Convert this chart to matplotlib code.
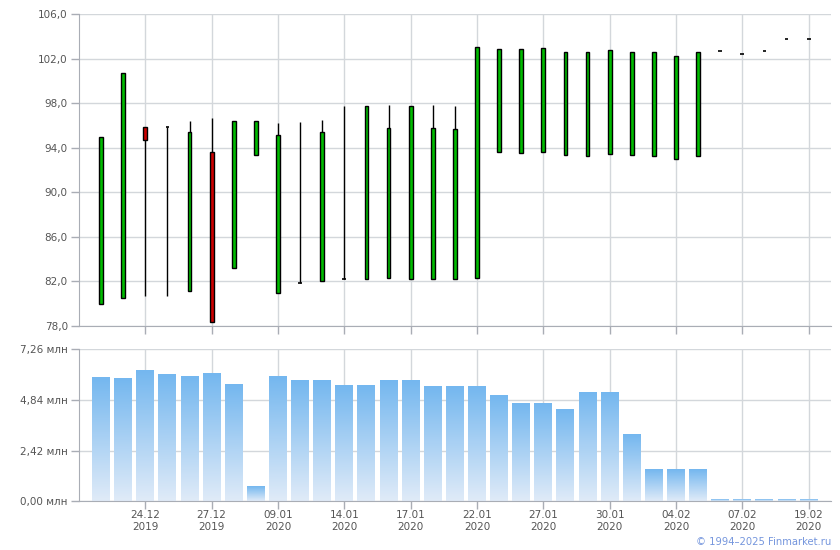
import numpy as np
import matplotlib
matplotlib.use("Agg")
import matplotlib.pyplot as plt
from matplotlib.colors import LinearSegmentedColormap

# --- data ---
opens = [80.0, 80.5, 95.9, 95.85, 81.1, 93.6, 83.2, 93.35, 80.95, 81.85, 82.0,
         82.2, 82.2, 82.3, 82.2, 82.2, 82.2, 82.3, 93.6, 93.5, 93.6, 93.35,
         93.25, 93.45, 93.35, 93.25, 93.0, 93.25, 102.7, 102.4, 102.7, 103.75, 103.75]
highs = [95.0, 100.7, 95.9, 95.85, 96.4, 96.65, 96.4, 96.4, 96.2, 96.3, 96.5,
         97.75, 97.75, 97.85, 97.75, 97.85, 97.75, 103.05, 102.85, 102.85, 102.95, 102.6,
         102.6, 102.75, 102.6, 102.6, 102.25, 102.6, 102.7, 102.4, 102.7, 103.75, 103.75]
lows = [80.0, 80.5, 80.65, 80.65, 81.1, 78.35, 83.2, 93.35, 80.95, 81.85, 82.0,
        82.2, 82.2, 82.3, 82.2, 82.2, 82.2, 82.3, 93.6, 93.5, 93.6, 93.35,
        93.25, 93.45, 93.35, 93.25, 93.0, 93.25, 102.7, 102.4, 102.7, 103.75, 103.75]
closes = [95.0, 100.7, 94.75, 95.85, 95.4, 78.35, 96.4, 96.4, 95.2, 81.85, 95.4,
          82.2, 97.75, 95.75, 97.75, 95.75, 95.7, 103.05, 102.85, 102.85, 102.95, 102.6,
          102.6, 102.75, 102.6, 102.6, 102.25, 102.6, 102.7, 102.4, 102.7, 103.75, 103.75]
volumes = [5.89, 5.84, 6.22, 6.03, 5.94, 6.08, 5.55, 0.68, 5.94, 5.74, 5.74,
           5.51, 5.51, 5.74, 5.74, 5.46, 5.46, 5.46, 5.03, 4.65, 4.65, 4.36,
           5.17, 5.17, 3.17, 1.50, 1.50, 1.50, 0.05, 0.05, 0.05, 0.05, 0.05]
tick_idx = [2, 5, 8, 11, 14, 17, 20, 23, 26, 29, 32]
tick_labels = ["24.12\n2019", "27.12\n2019", "09.01\n2020", "14.01\n2020", "17.01\n2020",
               "22.01\n2020", "27.01\n2020", "30.01\n2020", "04.02\n2020", "07.02\n2020",
               "19.02\n2020"]
price_ticks = [78, 82, 86, 90, 94, 98, 102, 106]
vol_ticks = [0.0, 2.42, 4.84, 7.26]

GRID = "#d3d7db"
SPINE = "#a9adb5"
TXT = "#555555"

plt.rcParams['font.family'] = ['DejaVu Sans']
plt.rcParams['font.size'] = 7.5

fig = plt.figure(figsize=(8.4, 5.5), dpi=100)
ax = fig.add_axes([0.094, 0.4073, 0.895, 0.5667])
axv = fig.add_axes([0.094, 0.0885, 0.895, 0.2764])

x = np.arange(len(opens))


def style(a):
    a.set_xlim(-1, len(opens))
    for s in ["top", "right"]:
        a.spines[s].set_visible(False)
    for s in ["left", "bottom"]:
        a.spines[s].set_color(SPINE)
    a.grid(True, color=GRID, linewidth=1)
    a.set_axisbelow(True)
    a.tick_params(color=SPINE, length=6, width=1, labelcolor=TXT, pad=2)
    a.set_xticks(tick_idx)


style(ax)
style(axv)

# candles
w = 0.17
for i in x:
    o, h, l, c = opens[i], highs[i], lows[i], closes[i]
    if h > l:
        ax.vlines(i, l, h, color="black", linewidth=1, zorder=2)
    if c > o:
        ax.bar(i, c - o, w, bottom=o, color="#00bb00", edgecolor="black", linewidth=1, zorder=3)
    elif c < o:
        ax.bar(i, o - c, w, bottom=c, color="#cc0000", edgecolor="black", linewidth=1, zorder=3)
    else:
        ax.hlines(o, i - w / 2, i + w / 2, color="black", linewidth=1.2, zorder=3)

ax.set_ylim(78, 106)
ax.set_yticks(price_ticks)
ax.set_yticklabels([f"{v:.1f}".replace(".", ",") for v in price_ticks])
ax.set_xticklabels([])

# volume bars with vertical gradient
cmap = LinearSegmentedColormap.from_list("vol", ["#e0ebf8", "#74b7ef"])
grad = np.linspace(0, 1, 256).reshape(-1, 1)
bw = 0.81
for i, v in zip(x, volumes):
    axv.imshow(grad, cmap=cmap, origin="lower", aspect="auto",
               extent=(i - bw / 2, i + bw / 2, 0, v), zorder=2, interpolation="bilinear")
axv.set_xlim(-1, len(opens))
axv.set_ylim(0, 7.26)
axv.set_yticks(vol_ticks)
axv.set_yticklabels([f"{v:.2f} млн".replace(".", ",") for v in vol_ticks])
axv.set_xticklabels(tick_labels, linespacing=1.25)
axv.tick_params(axis="x", pad=0)

fig.text(0.989, 0.0145, "© 1994–2025 Finmarket.ru", color="#7596dd", fontsize=7.2,
         ha="right", va="center")

fig.savefig("out.png", dpi=100)
